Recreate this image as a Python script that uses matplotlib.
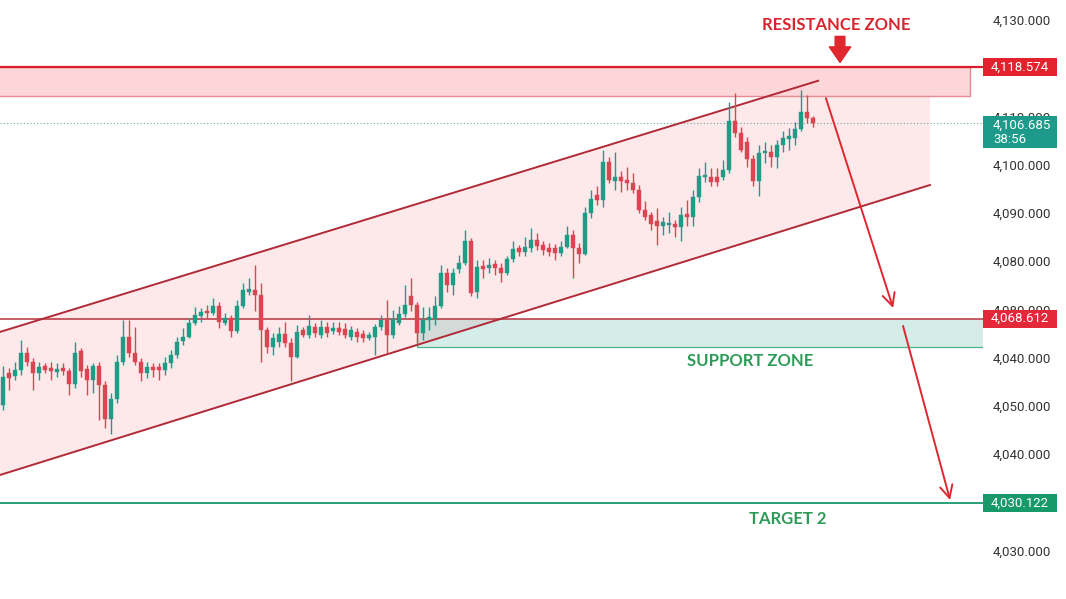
import matplotlib
matplotlib.use('Agg')
import matplotlib.pyplot as plt
from matplotlib.patches import Rectangle, Polygon
from matplotlib.transforms import blended_transform_factory
import numpy as np

# ============================================================
# 数据 (从图上读出的 K 线)
# ============================================================
opens = [4050.2, 4056.9, 4056.2, 4057.5, 4061.0, 4059.2, 4056.9, 4058.2, 4057.8, 4057.1,
         4057.8, 4057.3, 4054.6, 4061.3, 4057.6, 4055.3, 4058.3, 4054.4, 4047.3, 4051.4,
         4059.2, 4064.2, 4060.9, 4059.2, 4056.9, 4058.0, 4058.0, 4057.5, 4059.0, 4060.6,
         4063.5, 4064.4, 4067.1, 4068.7, 4069.6, 4069.2, 4070.7, 4067.3, 4068.2, 4065.6,
         4070.7, 4073.7, 4074.0, 4073.0, 4065.8, 4062.3, 4063.3, 4064.9, 4063.0, 4060.2,
         4065.8, 4064.7, 4066.4, 4064.7, 4066.3, 4065.6, 4066.1, 4065.9, 4064.2, 4065.4,
         4064.9, 4064.0, 4064.2, 4066.3, 4067.8, 4064.7, 4067.3, 4069.1, 4072.7, 4070.9,
         4065.1, 4067.8, 4068.0, 4070.7, 4077.6, 4075.1, 4078.3, 4079.7, 4084.1, 4073.7,
         4079.0, 4078.5, 4079.4, 4078.7, 4077.6, 4080.4, 4082.7, 4082.0, 4082.7, 4084.4,
         4083.4, 4082.7, 4082.7, 4081.8, 4083.0, 4085.4, 4082.7, 4081.5, 4089.9, 4093.7,
         4092.7, 4100.6, 4096.7, 4097.4, 4096.9, 4096.3, 4094.8, 4090.6, 4089.6, 4088.4,
         4087.3, 4087.5, 4087.7, 4087.0, 4089.8, 4089.2, 4093.4, 4097.4, 4097.5, 4097.5,
         4097.5, 4098.9, 4109.1, 4106.5, 4104.8, 4101.1, 4096.7, 4102.4, 4102.7, 4101.6,
         4104.1, 4105.3, 4105.5, 4107.4, 4111.0, 4109.6]
highs = [4058.2, 4057.8, 4059.2, 4063.7, 4062.3, 4059.9, 4059.2, 4058.9, 4059.2, 4058.9,
         4058.9, 4057.8, 4063.3, 4062.0, 4058.5, 4058.9, 4059.2, 4055.1, 4052.6, 4060.6,
         4067.8, 4067.8, 4066.4, 4059.9, 4059.2, 4058.9, 4059.0, 4060.2, 4061.6, 4064.4,
         4066.1, 4068.2, 4070.6, 4070.3, 4070.9, 4072.3, 4071.6, 4069.2, 4068.9, 4072.0,
         4075.4, 4076.5, 4079.2, 4075.4, 4066.4, 4065.1, 4066.4, 4067.5, 4064.0, 4066.8,
         4066.4, 4068.9, 4067.1, 4067.8, 4067.5, 4067.4, 4067.4, 4067.2, 4066.6, 4066.2,
         4065.8, 4065.4, 4067.0, 4068.9, 4072.0, 4069.9, 4070.7, 4075.1, 4076.5, 4071.6,
         4070.6, 4070.6, 4072.7, 4079.2, 4078.5, 4078.5, 4081.3, 4086.5, 4084.8, 4080.3,
         4080.3, 4080.6, 4080.3, 4079.6, 4081.0, 4084.1, 4083.4, 4085.1, 4086.8, 4085.9,
         4084.1, 4083.7, 4083.6, 4084.1, 4087.2, 4086.5, 4083.7, 4091.3, 4094.8, 4095.5,
         4103.1, 4101.7, 4102.7, 4098.6, 4099.6, 4098.2, 4095.8, 4092.4, 4090.3, 4091.0,
         4089.2, 4090.3, 4088.6, 4091.3, 4092.6, 4094.8, 4099.3, 4100.6, 4099.3, 4099.3,
         4101.0, 4113.1, 4114.8, 4107.9, 4105.8, 4102.0, 4104.1, 4104.8, 4104.1, 4105.1,
         4106.9, 4107.6, 4108.9, 4115.5, 4114.5, 4110.1]
lows = [4049.2, 4053.3, 4055.4, 4056.4, 4058.2, 4053.3, 4055.4, 4056.8, 4055.4, 4056.1,
        4056.4, 4052.3, 4053.7, 4056.1, 4052.3, 4052.6, 4047.1, 4045.4, 4044.2, 4050.6,
        4058.5, 4060.2, 4058.5, 4055.1, 4055.7, 4056.1, 4055.4, 4056.4, 4057.8, 4059.9,
        4062.6, 4064.0, 4066.8, 4067.5, 4068.2, 4068.9, 4066.1, 4066.8, 4064.4, 4065.1,
        4070.3, 4073.0, 4069.6, 4059.2, 4060.9, 4060.6, 4062.3, 4062.3, 4055.1, 4059.9,
        4064.4, 4064.0, 4064.4, 4064.0, 4064.4, 4064.9, 4064.7, 4064.1, 4063.7, 4063.3,
        4063.3, 4063.7, 4060.6, 4065.8, 4060.9, 4064.0, 4066.8, 4068.5, 4069.6, 4063.0,
        4063.7, 4065.8, 4066.8, 4070.3, 4073.7, 4073.0, 4077.5, 4079.2, 4072.7, 4072.3,
        4076.5, 4077.5, 4077.1, 4075.8, 4077.1, 4079.9, 4081.0, 4081.0, 4082.0, 4082.3,
        4081.3, 4081.0, 4080.3, 4081.0, 4082.7, 4076.5, 4079.6, 4081.3, 4088.9, 4091.7,
        4091.3, 4096.2, 4094.8, 4094.4, 4094.8, 4094.1, 4089.9, 4088.6, 4086.5, 4083.4,
        4085.4, 4085.8, 4085.1, 4084.1, 4087.2, 4087.2, 4092.3, 4096.5, 4095.5, 4095.5,
        4096.9, 4098.2, 4105.8, 4102.7, 4099.5, 4095.6, 4093.5, 4100.3, 4099.5, 4099.3,
        4102.7, 4103.1, 4104.1, 4106.9, 4108.6, 4107.9]
closes = [4056.1, 4055.7, 4057.5, 4060.9, 4059.2, 4056.9, 4058.0, 4057.5, 4057.3, 4057.7,
          4057.3, 4054.6, 4061.0, 4057.3, 4055.4, 4058.3, 4054.4, 4047.3, 4051.4, 4059.2,
          4064.2, 4061.0, 4059.2, 4056.9, 4058.0, 4057.5, 4057.5, 4059.0, 4060.6, 4063.3,
          4064.4, 4067.1, 4068.9, 4069.4, 4069.2, 4070.7, 4067.5, 4068.2, 4065.6, 4070.7,
          4074.0, 4074.2, 4073.0, 4065.8, 4062.3, 4064.0, 4064.9, 4063.0, 4060.2, 4065.4,
          4064.7, 4066.6, 4065.1, 4066.3, 4065.1, 4066.1, 4065.4, 4064.7, 4065.8, 4064.2,
          4064.0, 4064.7, 4066.3, 4067.8, 4064.7, 4068.0, 4069.1, 4070.9, 4070.9, 4065.1,
          4067.8, 4068.5, 4070.7, 4077.6, 4075.1, 4077.6, 4079.7, 4084.1, 4073.5, 4078.9,
          4078.3, 4079.2, 4078.5, 4077.6, 4080.4, 4082.5, 4082.0, 4082.9, 4084.3, 4083.2,
          4082.3, 4082.0, 4081.8, 4083.0, 4085.4, 4082.7, 4081.5, 4089.9, 4092.8, 4092.7,
          4100.6, 4096.9, 4097.5, 4096.7, 4096.2, 4094.8, 4090.6, 4089.2, 4087.7, 4087.3,
          4088.2, 4088.0, 4087.0, 4089.6, 4089.1, 4093.4, 4097.7, 4097.9, 4096.5, 4096.5,
          4098.9, 4109.1, 4106.6, 4103.1, 4101.1, 4096.7, 4102.5, 4102.9, 4101.6, 4104.1,
          4105.5, 4106.0, 4107.4, 4111.0, 4109.6, 4108.6]

# 关键价位 (线的位置) 与右侧标签
resistance_top = 4120.3
resistance_bottom = 4114.3
support_top = 4068.1
support_bottom = 4062.2
target_level = 4029.9
level_labels = ['4,118.574', '4,068.612', '4,030.122']
last_label = '4,106.685\n38:56'

# 右侧价格刻度 (按图上文字)
tick_values = [4130, 4110, 4100, 4090, 4080, 4070, 4060, 4050, 4040, 4020]
tick_labels = ['4,130.000', '4,110.000', '4,100.000', '4,090.000', '4,080.000',
               '4,080.000', '4,040.000', '4,050.000', '4,040.000', '4,030.000']

# 通道: 上轨/下轨端点 (bar index, price)
upper_channel = [(-0.55, 4065.35), (135.8, 4117.4)]
lower_channel = [(-0.55, 4035.7), (154.45, 4095.8)]
zone_right = 161.1       # 阻力区矩形右边界
support_left = 68.9      # 支撑区矩形左边界
fill_right = 154.45

UP = '#1f9c85'
DOWN = '#dd4451'
RED = '#e0262f'
GREEN = '#17996b'

# ============================================================
# 画布
# ============================================================
W, H = 1066, 599
fig = plt.figure(figsize=(W / 100, H / 100), dpi=100)
fig.patch.set_facecolor('white')
ax = fig.add_axes([0, 0, 983 / W, 1])
ax.set_xlim(-0.55, 163.28)
ax.set_ylim(4010.0, 4134.14)
for s in ax.spines.values():
    s.set_visible(False)
ax.set_xticks([])

# 通道填充
def upper_at(x):
    (x0, y0), (x1, y1) = upper_channel
    return y0 + (y1 - y0) * (x - x0) / (x1 - x0)

(ux0, uy0), (ux1, uy1) = upper_channel
x_cross = ux0 + (resistance_bottom - uy0) * (ux1 - ux0) / (uy1 - uy0)
(lx0, ly0), (lx1, ly1) = lower_channel
poly = Polygon([(ux0, uy0), (x_cross, resistance_bottom), (fill_right, resistance_bottom),
                (lx1, ly1), (lx0, ly0)], closed=True, facecolor='#f23645', alpha=0.11,
               edgecolor='none', zorder=1)
ax.add_patch(poly)

# 阻力区
ax.add_patch(Rectangle((-0.55, resistance_bottom), zone_right + 0.55,
                       resistance_top - resistance_bottom, facecolor='#f23645', alpha=0.2,
                       edgecolor='none', zorder=1))
ax.plot([-0.55, zone_right, zone_right, -0.55],
        [resistance_bottom, resistance_bottom, resistance_top, resistance_top],
        color='#e88a93', lw=1.0, zorder=2)
ax.axhline(resistance_top, color='#d81e2c', lw=1.6, zorder=3)

# 支撑区
ax.add_patch(Rectangle((support_left, support_bottom), 163.28 - support_left,
                       support_top - support_bottom, facecolor='#089981', alpha=0.17,
                       edgecolor='none', zorder=1))
ax.plot([support_left, support_left, 163.28], [support_top, support_bottom, support_bottom],
        color='#4fb38a', lw=0.9, zorder=2)
ax.axhline(support_top, color='#b8323c', lw=1.1, zorder=3)

# 目标线
ax.axhline(target_level, color=GREEN, lw=1.3, zorder=3)

# 当前价虚线
ax.axhline(closes[-1], color='#6aa9a0', lw=0.8, ls=(0, (1, 2)), zorder=1.5)

# 通道线
ax.plot(*zip(*upper_channel), color='#b02a38', lw=1.4, zorder=4)
ax.plot(*zip(*lower_channel), color='#b02a38', lw=1.4, zorder=4)

# K 线
o = np.array(opens); h = np.array(highs); l = np.array(lows); c = np.array(closes)
idx = np.arange(len(o))
cols = np.where(c >= o, UP, DOWN)
ax.vlines(idx, l, h, colors=cols, lw=1.0, zorder=5)
body_low = np.minimum(o, c)
body_h = np.maximum(np.abs(c - o), 0.4)
ax.bar(idx, body_h, bottom=body_low, width=0.7, color=cols, edgecolor=cols, lw=0.3, zorder=6)

# 箭头
ax.annotate('', xy=(148.3, 4070.3), xytext=(137.1, 4113.8),
            arrowprops=dict(arrowstyle='->,head_length=0.9,head_width=0.45', color=RED, lw=1.4,
                            shrinkA=0, shrinkB=0), zorder=7)
ax.annotate('', xy=(157.8, 4030.5), xytext=(149.95, 4066.6),
            arrowprops=dict(arrowstyle='->,head_length=0.9,head_width=0.45', color=RED, lw=1.4,
                            shrinkA=0, shrinkB=0), zorder=7)
ax.annotate('', xy=(139.45, 4121.2), xytext=(139.45, 4126.6),
            arrowprops=dict(arrowstyle='simple,head_width=1.1,head_length=0.8,tail_width=0.5',
                            color=RED, shrinkA=0, shrinkB=0, mutation_scale=14), zorder=7)

# 文字
ax.text(138.8, 4129.0, 'RESISTANCE ZONE', color='#d9232d', fontsize=12, fontweight='bold',
        family=['Lato', 'DejaVu Sans'], ha='center', va='center', zorder=8)
ax.text(124.45, 4059.3, 'SUPPORT ZONE', color='#2c9b58', fontsize=12, fontweight='bold',
        family=['Lato', 'DejaVu Sans'], ha='center', va='center', zorder=8)
ax.text(130.8, 4026.6, 'TARGET 2', color='#2c9b58', fontsize=12, fontweight='bold',
        family=['Lato', 'DejaVu Sans'], ha='center', va='center', zorder=8)

# 右侧刻度
ax.yaxis.tick_right()
ax.set_yticks(tick_values)
ax.set_yticklabels(tick_labels, family=['Roboto', 'DejaVu Sans'], fontsize=9.5, color='#333333')
ax.tick_params(axis='y', length=0, pad=7)

# 右侧价格标签框
tr = blended_transform_factory(ax.transAxes, ax.transData)
px = 0.2072  # price per pixel
box_w = 74 / 983
boxes = [(resistance_top, level_labels[0], '#e3222e', 18),
         (support_top, level_labels[1], '#e3283a', 18),
         (target_level, level_labels[2], '#17996b', 18)]
for y, txt, col, hpx in boxes:
    ax.add_patch(Rectangle((1.0, y - hpx / 2 * px), box_w, hpx * px, transform=tr,
                           facecolor=col, edgecolor='none', clip_on=False, zorder=9))
    ax.text(1.0 + box_w / 2, y, txt, transform=tr, color='white', fontsize=9.5,
            family=['Roboto', 'DejaVu Sans'], ha='center', va='center', clip_on=False, zorder=10)

# 当前价标签
y_last = closes[-1]
ax.add_patch(Rectangle((1.0, y_last - 25 * px), box_w, 32 * px, transform=tr,
                       facecolor='#1d9a8a', edgecolor='none', clip_on=False, zorder=9))
ax.text(1.0 + 10 / 983, y_last - 9 * px, last_label, transform=tr, color='white', fontsize=9.5,
        family=['Roboto', 'DejaVu Sans'], ha='left', va='center', linespacing=1.1,
        clip_on=False, zorder=10)

fig.savefig('out.png', dpi=100, facecolor='white')
plt.close(fig)
